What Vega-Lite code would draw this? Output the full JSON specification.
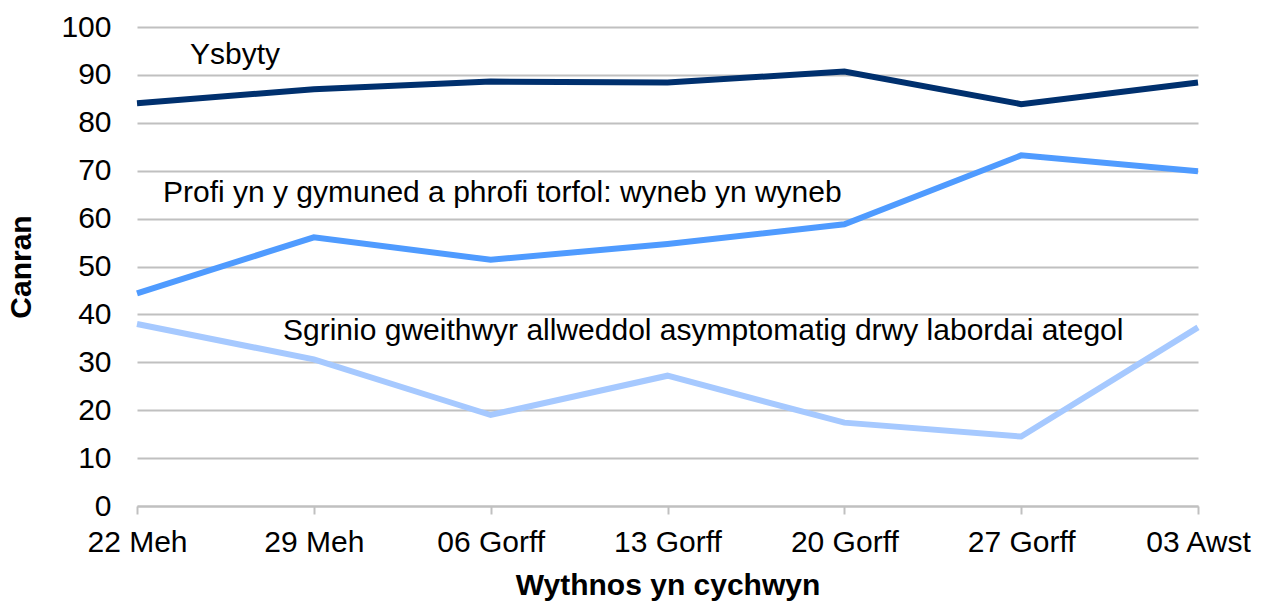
{
  "$schema": "https://vega.github.io/schema/vega-lite/v6.json",
  "width": 1061,
  "height": 479,
  "autosize": {"type": "none"},
  "padding": {"left": 137, "top": 27, "right": 69, "bottom": 97},
  "background": "white",
  "config": {
    "view": {"stroke": null},
    "font": "Liberation Sans",
    "axis": {"labelFont": "Liberation Sans", "titleFont": "Liberation Sans", "labelColor": "#000000", "titleColor": "#000000"}
  },
  "datasets": {
    "series": [
      {"week": "22 Meh", "series": "Ysbyty", "value": 84.1},
      {"week": "29 Meh", "series": "Ysbyty", "value": 87.0},
      {"week": "06 Gorff", "series": "Ysbyty", "value": 88.6},
      {"week": "13 Gorff", "series": "Ysbyty", "value": 88.4},
      {"week": "20 Gorff", "series": "Ysbyty", "value": 90.7},
      {"week": "27 Gorff", "series": "Ysbyty", "value": 83.9},
      {"week": "03 Awst", "series": "Ysbyty", "value": 88.4},
      {"week": "22 Meh", "series": "Profi", "value": 44.4},
      {"week": "29 Meh", "series": "Profi", "value": 56.1},
      {"week": "06 Gorff", "series": "Profi", "value": 51.4},
      {"week": "13 Gorff", "series": "Profi", "value": 54.7},
      {"week": "20 Gorff", "series": "Profi", "value": 58.8},
      {"week": "27 Gorff", "series": "Profi", "value": 73.2},
      {"week": "03 Awst", "series": "Profi", "value": 69.9},
      {"week": "22 Meh", "series": "Sgrinio", "value": 38.0},
      {"week": "29 Meh", "series": "Sgrinio", "value": 30.6},
      {"week": "06 Gorff", "series": "Sgrinio", "value": 19.0},
      {"week": "13 Gorff", "series": "Sgrinio", "value": 27.2},
      {"week": "20 Gorff", "series": "Sgrinio", "value": 17.4},
      {"week": "27 Gorff", "series": "Sgrinio", "value": 14.5},
      {"week": "03 Awst", "series": "Sgrinio", "value": 37.3}
    ]
  },
  "layer": [
    {
      "data": {"name": "series"},
      "mark": {"type": "line", "strokeWidth": 6, "strokeJoin": "miter", "strokeCap": "butt"},
      "encoding": {
        "x": {
          "field": "week", "type": "ordinal",
          "sort": ["22 Meh", "29 Meh", "06 Gorff", "13 Gorff", "20 Gorff", "27 Gorff", "03 Awst"],
          "scale": {"type": "point", "padding": 0},
          "axis": {
            "title": "Wythnos yn cychwyn", "titleFontSize": 30, "titleFontWeight": "bold", "titlePadding": 13,
            "labelFontSize": 30, "labelAngle": 0, "labelPadding": 13,
            "domainColor": "#c0c0c0", "domainWidth": 2, "tickColor": "#c0c0c0", "tickWidth": 2, "tickSize": 8,
            "grid": false
          }
        },
        "y": {
          "field": "value", "type": "quantitative",
          "scale": {"domain": [0, 100], "nice": false},
          "axis": {
            "title": "Canran", "titleFontSize": 30, "titleFontWeight": "bold", "titlePadding": 24,
            "values": [0, 10, 20, 30, 40, 50, 60, 70, 80, 90, 100],
            "labelFontSize": 30, "labelPadding": 26, "ticks": false, "domain": false,
            "grid": true, "gridColor": "#c0c0c0", "gridWidth": 2
          }
        },
        "color": {
          "field": "series", "type": "nominal", "legend": null,
          "scale": {"domain": ["Ysbyty", "Profi", "Sgrinio"], "range": ["#00306E", "#4F9BFF", "#A6C9FF"]}
        }
      }
    },
    {
      "data": {"values": [{"week": "22 Meh", "value": 94.2, "text": "Ysbyty"}]},
      "mark": {"type": "text", "align": "left", "baseline": "middle", "fontSize": 30, "font": "Liberation Sans", "color": "#000000", "dx": 53},
      "encoding": {
        "x": {"field": "week", "type": "ordinal", "sort": ["22 Meh", "29 Meh", "06 Gorff", "13 Gorff", "20 Gorff", "27 Gorff", "03 Awst"]},
        "y": {"field": "value", "type": "quantitative"},
        "text": {"field": "text"}
      }
    },
    {
      "data": {"values": [{"week": "22 Meh", "value": 65.4, "text": "Profi yn y gymuned a phrofi torfol: wyneb yn wyneb"}]},
      "mark": {"type": "text", "align": "left", "baseline": "middle", "fontSize": 30, "font": "Liberation Sans", "color": "#000000", "dx": 26},
      "encoding": {
        "x": {"field": "week", "type": "ordinal", "sort": ["22 Meh", "29 Meh", "06 Gorff", "13 Gorff", "20 Gorff", "27 Gorff", "03 Awst"]},
        "y": {"field": "value", "type": "quantitative"},
        "text": {"field": "text"}
      }
    },
    {
      "data": {"values": [{"week": "22 Meh", "value": 36.6, "text": "Sgrinio gweithwyr allweddol asymptomatig drwy labordai ategol"}]},
      "mark": {"type": "text", "align": "left", "baseline": "middle", "fontSize": 30, "font": "Liberation Sans", "color": "#000000", "dx": 146},
      "encoding": {
        "x": {"field": "week", "type": "ordinal", "sort": ["22 Meh", "29 Meh", "06 Gorff", "13 Gorff", "20 Gorff", "27 Gorff", "03 Awst"]},
        "y": {"field": "value", "type": "quantitative"},
        "text": {"field": "text"}
      }
    }
  ]
}
